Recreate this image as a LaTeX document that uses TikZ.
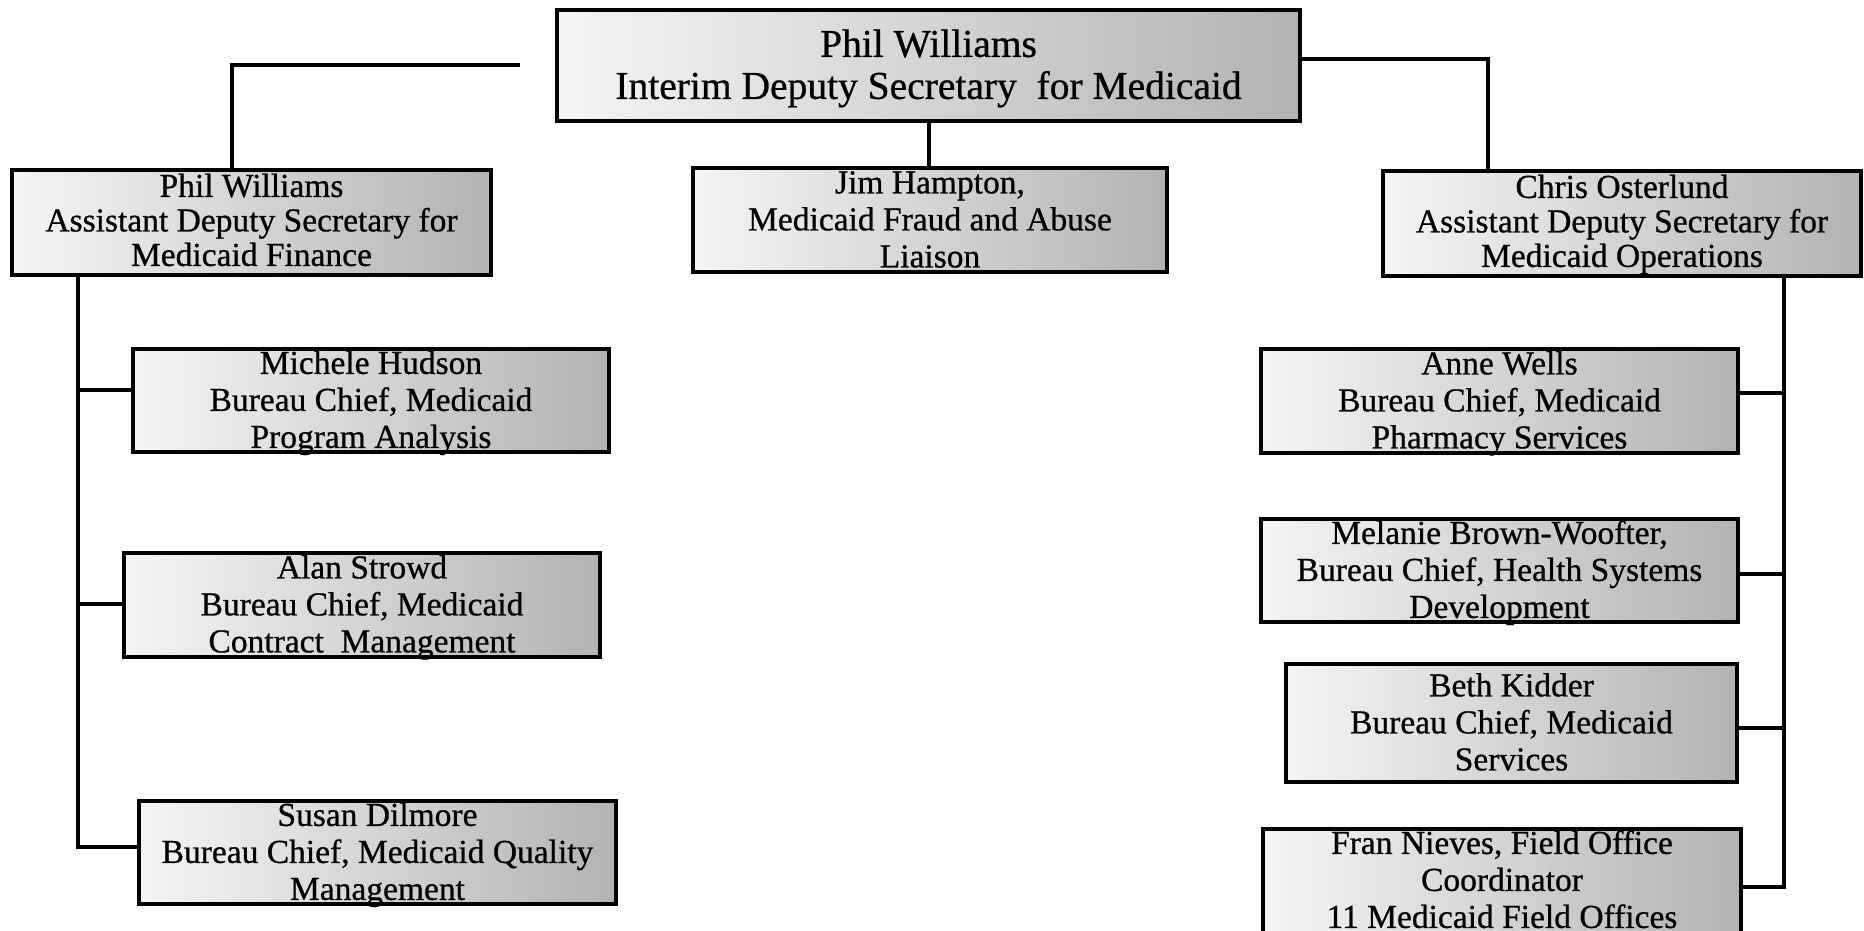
\documentclass[tikz,border=0pt]{standalone}
\usepackage{fontspec}
\setmainfont{Liberation Serif}[FakeBold=0.7]
\begin{document}
\begin{tikzpicture}[x=1pt,y=-1pt,
  box/.style={draw=black, line width=4pt, rectangle, inner sep=0pt, left color=gray!8, right color=gray!60},
  txt/.style={align=center, inner sep=0pt, text=black, yshift=-3pt, font=\fontsize{33.5}{37}\selectfont},
  txtads/.style={txt, yshift=1pt, font=\fontsize{33.5}{34.5}\selectfont},
  txttop/.style={txt, yshift=-1pt, font=\fontsize{39.5}{42}\selectfont},
  conn/.style={draw=black, line width=4pt}]
\useasboundingbox (0,0) rectangle (1864,930);
\fill[white] (0,0) rectangle (1864,930);

% boxes
\node[box, minimum width=743pt, minimum height=111pt] (top) at (928.5,65.5) {};
\node[box, minimum width=479pt, minimum height=105pt] (ads) at (251.5,222.5) {};
\node[box, minimum width=474pt, minimum height=104pt] (jim) at (930,220) {};
\node[box, minimum width=478pt, minimum height=105pt] (chris) at (1622,223.5) {};
\node[box, minimum width=476pt, minimum height=103pt] (mich) at (371,400.5) {};
\node[box, minimum width=476pt, minimum height=104pt] (alan) at (362,605) {};
\node[box, minimum width=477pt, minimum height=103pt] (susan) at (377.5,852.5) {};
\node[box, minimum width=477pt, minimum height=104pt] (anne) at (1499.5,401) {};
\node[box, minimum width=477pt, minimum height=103pt] (mel) at (1499.5,570.5) {};
\node[box, minimum width=451pt, minimum height=118pt] (beth) at (1511.5,723) {};
\node[box, minimum width=478pt, minimum height=105pt] (fran) at (1502,881.5) {};

% texts
\node[txttop] (top-t) at (top) {\strut Phil Williams\\Interim Deputy Secretary\ \ for Medicaid\strut};
\node[txtads] (ads-t) at (ads) {\strut Phil Williams\\Assistant Deputy Secretary for\\Medicaid Finance\strut};
\node[txt] (jim-t) at (jim) {\strut Jim Hampton,\\Medicaid Fraud and Abuse\\Liaison\strut};
\node[txtads] (chris-t) at (chris) {\strut Chris Osterlund\\Assistant Deputy Secretary for\\Medicaid Operations\strut};
\node[txt] (mich-t) at (mich) {\strut Michele Hudson\\Bureau Chief, Medicaid\\Program Analysis\strut};
\node[txt] (alan-t) at (alan) {\strut Alan Strowd\\Bureau Chief, Medicaid\\Contract\ \ Management\strut};
\node[txt] (susan-t) at (susan) {\strut Susan Dilmore\\Bureau Chief, Medicaid Quality\\Management\strut};
\node[txt] (anne-t) at (anne) {\strut Anne Wells\\Bureau Chief, Medicaid\\Pharmacy Services\strut};
\node[txt] (mel-t) at (mel) {\strut Melanie Brown-Woofter,\\Bureau Chief, Health Systems\\Development\strut};
\node[txt] (beth-t) at (beth) {\strut Beth Kidder\\Bureau Chief, Medicaid\\Services\strut};
\node[txt, yshift=1pt] (fran-t) at (fran) {\strut Fran Nieves, Field Office\\Coordinator\\11 Medicaid Field Offices\strut};

% top connectors
\coordinate (lfree) at (520,65);
\draw[conn] (lfree) -| ([xshift=-19.5pt]ads.north);
\draw[conn] (top.south) -- (top.south |- jim.north);
\draw[conn] ([yshift=6.5pt]top.east) -| ([xshift=-134.5pt]chris.north);

% left spine
\coordinate (lsp) at ([xshift=-173.5pt]ads.south);
\draw[conn] (lsp) |- ([yshift=5.5pt]susan.west);
\draw[conn] ([yshift=10.5pt]mich.west) -- ([yshift=10.5pt]mich.west -| lsp);
\draw[conn] ([yshift=1pt]alan.west) -- ([yshift=1pt]alan.west -| lsp);

% right spine
\coordinate (rsp) at ([xshift=162pt]chris.south);
\draw[conn] (rsp) |- ([yshift=-5.5pt]fran.east);
\draw[conn] ([yshift=8pt]anne.east) -- ([yshift=8pt]anne.east -| rsp);
\draw[conn] ([yshift=-3.5pt]mel.east) -- ([yshift=-3.5pt]mel.east -| rsp);
\draw[conn] ([yshift=-5pt]beth.east) -- ([yshift=-5pt]beth.east -| rsp);
\end{tikzpicture}
\end{document}
